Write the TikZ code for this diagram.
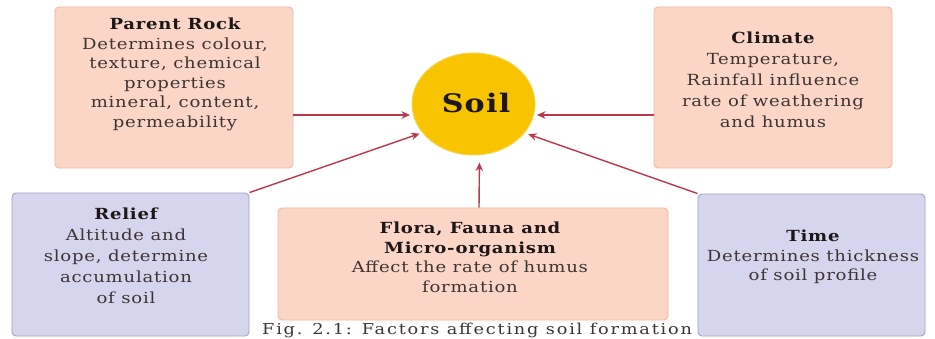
\documentclass[tikz,border=0pt]{standalone}
\usepackage{fontspec}
\setmainfont{DejaVu Serif}[FakeStretch=1.18,LetterSpace=5]
\usetikzlibrary{arrows.meta,calc,shapes.geometric}
\definecolor{salfill}{HTML}{FBD6C6}
\definecolor{salline}{HTML}{EDBBA9}
\definecolor{purfill}{HTML}{D6D5EE}
\definecolor{purline}{HTML}{A4A2C9}
\definecolor{soilfill}{HTML}{F8C400}
\definecolor{soilline}{HTML}{F5D54A}
\definecolor{arrcol}{HTML}{B93A4E}
\definecolor{bodytxt}{HTML}{3D3434}
\definecolor{headtxt}{HTML}{1E1717}
\begin{document}
\begin{tikzpicture}[x=1pt,y=-1pt,
  boxbase/.style={rectangle,rounded corners=4pt,line width=0.9pt,inner sep=0pt},
  salbox/.style={boxbase,fill=salfill,draw=salline},
  purbox/.style={boxbase,fill=purfill,draw=purline},
  txt/.style={anchor=north,inner sep=0pt,align=center,text=bodytxt,font=\fontsize{15.3}{19.5}\selectfont},
  txtwide/.style={txt,font=\fontsize{15.3}{21}\selectfont},
  arr/.style={draw=arrcol,line width=1.4pt,-{Stealth[length=8.5pt,width=7.5pt]}},
  ]
\clip (0,0) rectangle (935,339);
\fill[white] (0,0) rectangle (935,339);
% boxes
\node[salbox,minimum width=238pt,minimum height=161pt] (pr) at (174,87.5) {};
\node[salbox,minimum width=238pt,minimum height=161pt] (cl) at (773,87.5) {};
\node[purbox,minimum width=237pt,minimum height=143pt] (rl) at (130.5,264.5) {};
\node[salbox,minimum width=390pt,minimum height=112pt] (fl) at (473,264) {};
\node[purbox,minimum width=227pt,minimum height=142pt] (tm) at (811.5,265) {};
\node[ellipse,fill=soilfill,draw=soilline,line width=1pt,minimum width=123pt,minimum height=102pt,inner sep=0pt] (soil) at (473.5,104) {};
\node[text=headtxt,inner sep=0pt,font=\fontsize{25.5}{30}\selectfont\bfseries] (soiltxt) at (476,103) {Soil};
% texts
\node[txt] (prt) at (175,18) {{\bfseries\color{headtxt}Parent Rock}\\Determines colour,\\texture, chemical\\properties\\mineral, content,\\permeability};
\node[txtwide] (clt) at (773,32) {{\bfseries\color{headtxt}Climate}\\Temperature,\\Rainfall influence\\rate of weathering\\and humus};
\node[txtwide] (rlt) at (126,208) {{\bfseries\color{headtxt}Relief}\\Altitude and\\slope, determine\\accumulation\\of soil};
\node[txt] (flt) at (470,222) {{\bfseries\color{headtxt}Flora, Fauna and}\\{\bfseries\color{headtxt}Micro-organism}\\Affect the rate of humus\\formation};
\node[txt] (tmt) at (813,230) {{\bfseries\color{headtxt}Time}\\Determines thickness\\of soil profile};
\node[anchor=north west,inner sep=0pt,text=bodytxt,font=\fontsize{15}{18}\selectfont\addfontfeatures{LetterSpace=12}] (cap) at (262,323) {Fig. 2.1: Factors affecting soil formation};
% arrows
\draw[arr,shorten >=1.5pt] ([yshift=-27.5pt]pr.east) -- ([yshift=-27.5pt]pr.east -| soil.west);
\draw[arr,shorten >=1.5pt] ([yshift=-27.5pt]cl.west) -- ([yshift=-27.5pt]cl.west -| soil.east);
\draw[arr,shorten >=57pt] (rl.north east) -- ($(soil.center)+(0,11)$);
\draw[arr,shorten >=58pt] (tm.north west) -- ($(soil.center)+(0,11)$);
\draw[arr,shorten >=7pt] ([xshift=6pt]fl.north) -- ([xshift=6pt]soil.south);
\end{tikzpicture}
\end{document}
